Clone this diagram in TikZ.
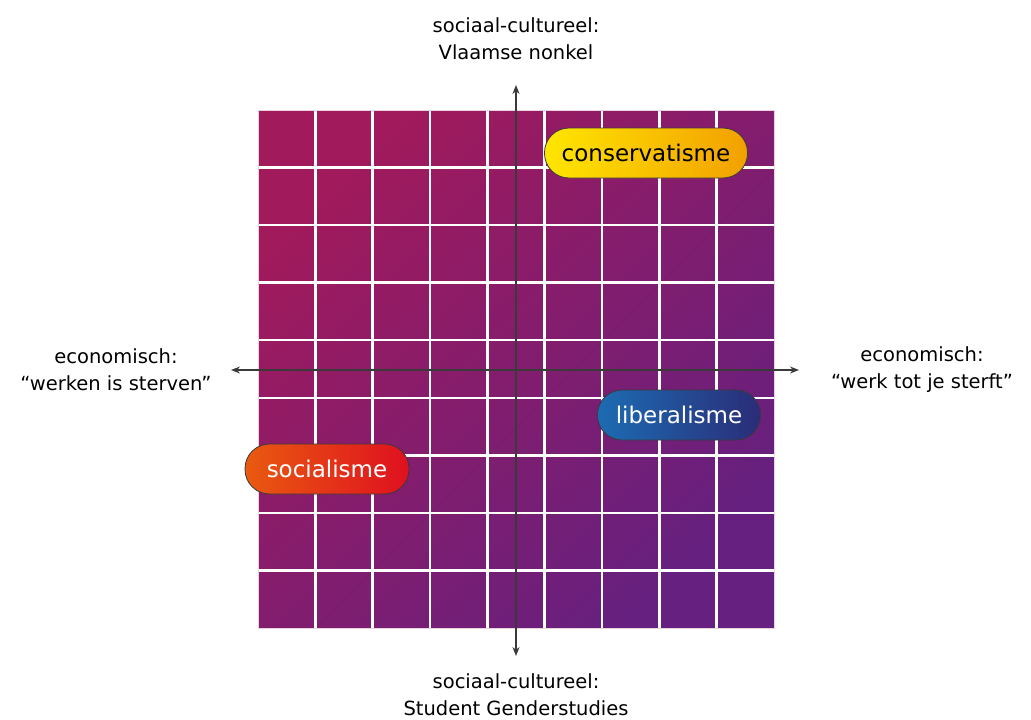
\documentclass[tikz,border=0pt]{standalone}
\usepackage{fontspec}
\setmainfont{DejaVu Sans}
\usetikzlibrary{arrows.meta}
\definecolor{gridTL}{HTML}{A01A5C}
\definecolor{gridBR}{HTML}{66207F}
\definecolor{axisgray}{HTML}{3A3A3A}
\definecolor{consL}{HTML}{FFE600}
\definecolor{consR}{HTML}{F2A000}
\definecolor{socL}{HTML}{E95A10}
\definecolor{socR}{HTML}{DF1020}
\definecolor{libL}{HTML}{1C6CB2}
\definecolor{libR}{HTML}{2B2C78}
\tikzset{
  pill/.style={rectangle, rounded corners=24.5pt, draw=axisgray, line width=0.8pt, minimum height=50pt, font=\fontsize{23}{26}\selectfont, shading angle=90},
  axislabel/.style={align=center, font=\fontsize{19.5}{27}\selectfont, text=black},
  axisarrow/.style={axisgray, line width=1.3pt, {Stealth[length=9pt,width=7pt]}-{Stealth[length=9pt,width=7pt]}}
}
\begin{document}
\begin{tikzpicture}[x=1pt,y=-1pt]
\useasboundingbox (0,0) rectangle (1031,720);
% grid background
\shade[top color=gridTL, bottom color=gridBR, shading angle=45] (258,110) rectangle (774,628);
\foreach \i in {1,...,8} {
  \draw[white, line width=2.5pt] ({258+\i*57.333},110) -- ({258+\i*57.333},628);
  \draw[white, line width=2.5pt] (258,{110+\i*57.555}) -- (774,{110+\i*57.555});
}
\draw[white!80!gridTL, line width=1pt] (258,110) rectangle (774,628);
% axes
\coordinate (top) at (516,85);
\coordinate (bottom) at (516,656);
\coordinate (left) at (231,370);
\coordinate (right) at (799,370);
\draw[axisarrow] (bottom) -- (top);
\draw[axisarrow] (left) -- (right);
% pills
\node[pill, left color=consL, right color=consR, minimum width=203pt, text=black] (cons) at (646,153) {conservatisme};
\node[pill, left color=socL, right color=socR, minimum width=164pt, text=white] (soc) at (327,469) {socialisme};
\node[pill, left color=libL, right color=libR, minimum width=163pt, text=white] (lib) at (679,415) {liberalisme};
% labels
\node[axislabel] (ltop) at (516,39) {sociaal-cultureel:\\Vlaamse nonkel};
\node[axislabel] (lbot) at (516,695) {sociaal-cultureel:\\Student Genderstudies};
\node[axislabel] (lleft) at (116,370) {economisch:\\“werken is sterven”};
\node[axislabel] (lright) at (922,370) {economisch:\\“werk tot je sterft”};
\end{tikzpicture}
\end{document}
